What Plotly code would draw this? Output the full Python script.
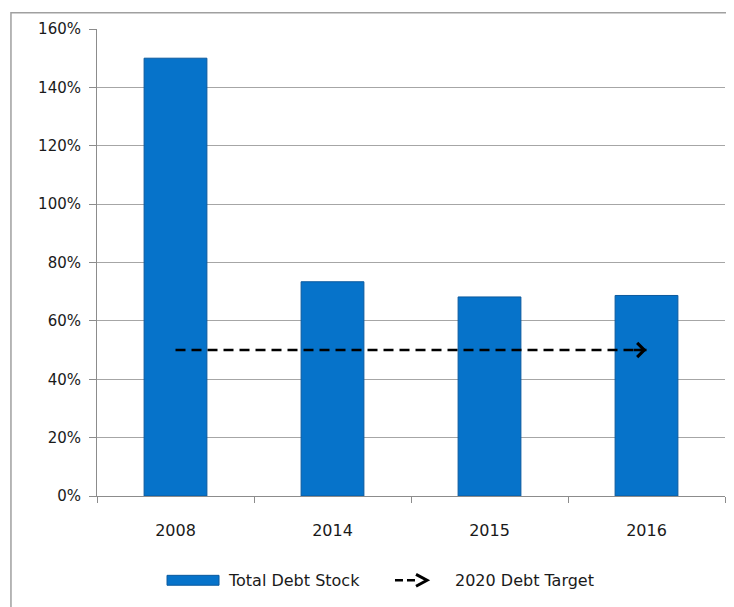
import plotly.graph_objects as go

years = ["2008", "2014", "2015", "2016"]
debt_stock = [150.0, 73.4, 68.2, 68.7]
target_years = ["2008", "2016"]
target_values = [50, 50]
y_ticks = [0, 20, 40, 60, 80, 100, 120, 140, 160]
y_tick_labels = [f"{v}%" for v in y_ticks]
legend_names = ["Total Debt Stock", "2020 Debt Target"]

text_color = "#1a1a1a"
bar_color = "#0673CA"
bar_edge = "#0B5A9E"

fig = go.Figure()
fig.add_trace(go.Bar(
    x=years, y=debt_stock, name=legend_names[0],
    width=0.4, showlegend=False,
    marker=dict(color=bar_color, line=dict(color=bar_edge, width=1)),
))
fig.add_trace(go.Scatter(
    x=target_years, y=target_values, name=legend_names[1],
    mode="lines", showlegend=False,
    line=dict(color="black", width=2.5, dash="10px,6px"),
))
# arrow head at the end of the target line (category index of last year)
fig.add_annotation(
    x=years.index(target_years[-1]), y=target_values[-1], ax=-14, ay=0,
    text="", showarrow=True, arrowhead=4, arrowsize=1.1,
    arrowwidth=2.5, arrowcolor="black",
)

fig.update_yaxes(
    range=[0, 160], tickvals=y_ticks, ticktext=y_tick_labels,
    showgrid=True, gridcolor="#A6A6A6", gridwidth=1,
    showline=True, linecolor="#8C8C8C", linewidth=1,
    ticks="outside", ticklen=7, tickcolor="#8C8C8C",
    zeroline=False, ticklabelstandoff=5,
    tickfont=dict(family="DejaVu Sans", size=15, color=text_color),
)
fig.update_xaxes(
    type="category", range=[-0.5, len(years) - 0.5],
    showline=True, linecolor="#8C8C8C", linewidth=1,
    ticks="outside", tickson="boundaries", ticklen=6, tickcolor="#8C8C8C",
    ticklabelstandoff=20,
    tickfont=dict(family="DejaVu Sans", size=16, color=text_color),
)

# outer frame of the chart
fig.add_shape(type="rect", xref="paper", yref="paper",
              x0=-0.137, x1=1.2, y0=-0.3, y1=1.035,
              line=dict(color="#A0A0A0", width=1.5), layer="below")

# legend drawn below the plot: wide bar swatch and dashed arrow icon
legend_font = dict(family="DejaVu Sans", size=16, color=text_color)
fig.add_shape(type="rect", xref="paper", yref="paper",
              x0=0.1115, x1=0.1943, y0=-0.1911, y1=-0.1699,
              fillcolor=bar_color, line=dict(color=bar_edge, width=1))
fig.add_shape(type="line", xref="paper", yref="paper",
              x0=0.4745, x1=0.5080, y0=-0.1805, y1=-0.1805,
              line=dict(color="black", width=2.5, dash="8px,4px"))
fig.add_shape(type="path", xref="paper", yref="paper",
              path="M 0.5080 -0.1677 L 0.5255 -0.1805 L 0.5080 -0.1932",
              line=dict(color="black", width=3))
fig.add_annotation(x=0.2054, y=-0.1805, xref="paper", yref="paper",
                   text=legend_names[0], showarrow=False,
                   xanchor="left", yanchor="middle", font=legend_font)
fig.add_annotation(x=0.5669, y=-0.1805, xref="paper", yref="paper",
                   text=legend_names[1], showarrow=False,
                   xanchor="left", yanchor="middle", font=legend_font)

fig.update_layout(
    width=734, height=607,
    margin=dict(l=89, r=17, t=17, b=119),
    plot_bgcolor="white", paper_bgcolor="white",
    bargap=0.6,
    showlegend=False,
)

fig.write_html("out.html")
